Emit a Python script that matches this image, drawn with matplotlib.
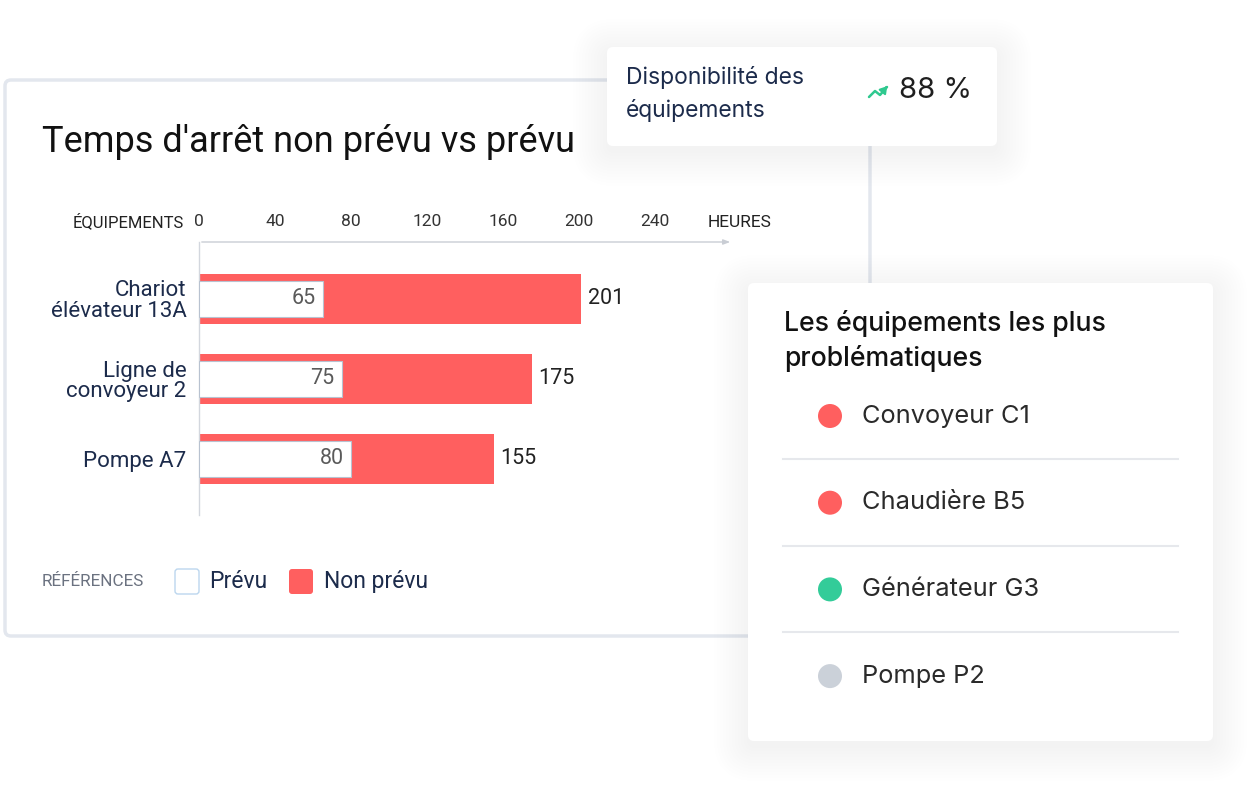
import matplotlib.pyplot as plt
from matplotlib.patches import FancyBboxPatch, Circle

plt.rcParams["font.family"] = ["Roboto", "DejaVu Sans"]

# ---- data ----
EQUIPEMENTS = ["Chariot\nélévateur 13A", "Ligne de\nconvoyeur 2", "Pompe A7"]
NON_PREVU = [201, 175, 155]
PREVU = [65, 75, 80]
TICKS = [0, 40, 80, 120, 160, 200, 240]

KPI_LABEL = "Disponibilité des\néquipements"
KPI_VALUE = "88 %"

PROBLEMES = ["Convoyeur C1", "Chaudière B5", "Générateur G3", "Pompe P2"]
PROBLEME_COLORS = ["#ff5f5f", "#ff5f5f", "#33cc99", "#cbd1d9"]

RED = "#ff5f5f"
NAVY = "#1c2b4b"
BORDER = "#e3e7ee"
INTER = ["Inter", "DejaVu Sans"]

W, H = 1250, 805
fig = plt.figure(figsize=(12.5, 8.05), dpi=100)
fig.patch.set_facecolor("white")

# background axes in pixel coordinates for cards and decorations
bg = fig.add_axes([0, 0, 1, 1])
bg.set_xlim(0, W)
bg.set_ylim(H, 0)
bg.axis("off")


def card(ax, x, y, w, h, shadow=True, edge=None, z=1):
    if shadow:
        for i in range(12):
            grow = 3 + i * 3
            ax.add_patch(FancyBboxPatch(
                (x - grow + 2, y - grow + 8), w + 2 * grow - 4, h + 2 * grow - 4,
                boxstyle="round,pad=0,rounding_size=%d" % (6 + grow),
                facecolor="#8a94aa", edgecolor="none", alpha=0.007, zorder=z))
    ax.add_patch(FancyBboxPatch(
        (x, y), w, h, boxstyle="round,pad=0,rounding_size=6",
        facecolor="white", edgecolor=edge if edge else "none",
        linewidth=2.5 if edge else 0, zorder=z + 0.5))


# main chart card
card(bg, 5, 80, 865, 556, shadow=False, edge=BORDER, z=1)

bg.text(42, 142, "Temps d'arrêt non prévu vs prévu", fontsize=26, color="#111111",
        va="center", ha="left", zorder=3)
bg.text(184, 222, "ÉQUIPEMENTS", fontsize=12, color="#222222",
        va="center", ha="right", zorder=3)
bg.text(708, 222, "HEURES", fontsize=12.5, color="#222222",
        va="center", ha="left", zorder=3)

# legend
bg.text(42, 581, "RÉFÉRENCES", fontsize=12.3, color="#6b7280",
        va="center", ha="left", zorder=3)
bg.add_patch(FancyBboxPatch((175, 569), 24, 25, boxstyle="round,pad=0,rounding_size=3",
                            facecolor="white", edgecolor="#bcd6ee", linewidth=1, zorder=3))
bg.text(209, 581, "Prévu", fontsize=16.5, color=NAVY, va="center", ha="left", zorder=3)
bg.add_patch(FancyBboxPatch((289, 569), 24, 25, boxstyle="round,pad=0,rounding_size=3",
                            facecolor=RED, edgecolor="none", zorder=3))
bg.text(324, 581, "Non prévu", fontsize=16.5, color=NAVY, va="center", ha="left", zorder=3)

# KPI card
card(bg, 607, 47, 390, 99, z=4)
bg.text(626, 94, KPI_LABEL, fontsize=16.5, color=NAVY, va="center", ha="left",
        linespacing=1.6, family=INTER, zorder=6)
bg.plot([869, 875, 880, 887], [97, 91, 95, 87], color="#2fc98f", linewidth=1.8,
        solid_capstyle="round", zorder=6)
bg.annotate("", xy=(889, 84), xytext=(884, 90),
            arrowprops=dict(arrowstyle="-|>,head_width=0.25,head_length=0.4",
                            color="#2fc98f", lw=1.5), zorder=6)
bg.text(899, 90, KPI_VALUE, fontsize=21, color="#1f1f1f", va="center", ha="left",
        family=INTER, zorder=6)

# list card
card(bg, 748, 283, 465, 458, z=4)
bg.text(784, 341, "Les équipements les plus\nproblématiques", fontsize=19.2,
        color="#111111", va="center", ha="left", linespacing=1.42,
        family=INTER, fontweight="medium", zorder=6)
for i, (name, col) in enumerate(zip(PROBLEMES, PROBLEME_COLORS)):
    yy = 416 + i * 86.7
    bg.add_patch(Circle((830, yy), 12, facecolor=col, edgecolor="none", zorder=6))
    bg.text(862, yy, name, fontsize=18.3, color="#2a2a2a", va="center", ha="left",
            family=INTER, zorder=6)
    if i < len(PROBLEMES) - 1:
        bg.plot([783, 1178], [yy + 43, yy + 43], color="#e6e8ec", linewidth=1.5, zorder=6)

# ---- bar chart axes ----
x0, x1, y0, y1 = 199, 733, 242, 515
ax = fig.add_axes([x0 / W, 1 - y1 / H, (x1 - x0) / W, (y1 - y0) / H])
ax.set_facecolor("none")
ypos = list(range(len(EQUIPEMENTS)))

bars = ax.barh(ypos, NON_PREVU, height=0.625, color=RED, edgecolor="none", zorder=2)
ax.barh(ypos, PREVU, height=0.44, color="white", edgecolor="#b8c2d0", linewidth=0.8,
        zorder=3)

for y, p, n in zip(ypos, PREVU, NON_PREVU):
    ax.annotate(str(p), (p, y), xytext=(-5, 0), textcoords="offset points",
                ha="right", va="center", fontsize=15.5, color="#5a5a5a", zorder=4)
    ax.annotate(str(n), (n, y), xytext=(5, 0), textcoords="offset points",
                ha="left", va="center", fontsize=15.5, color="#222222", zorder=4)

ax.set_xlim(0, 281)
ax.set_ylim(2.7, -0.7125)
ax.xaxis.tick_top()
ax.set_xticks(TICKS)
ax.set_xticklabels([str(t) for t in TICKS])
ax.tick_params(axis="x", length=0, pad=9, labelsize=12.5, labelcolor="#333333")
ax.set_yticks(ypos)
ax.set_yticklabels(EQUIPEMENTS)
ax.tick_params(axis="y", length=0, pad=9, labelsize=16, labelcolor=NAVY)
for lab in ax.get_yticklabels():
    lab.set_linespacing(0.95)

for s in ["top", "right", "bottom"]:
    ax.spines[s].set_visible(False)
ax.spines["left"].set_color("#d3d7de")
ax.spines["left"].set_linewidth(1)
ax.annotate("", xy=(1, 1), xytext=(0, 1), xycoords="axes fraction",
            arrowprops=dict(arrowstyle="-|>,head_width=0.15,head_length=0.4",
                            color="#c9cdd4", lw=1))

fig.savefig("out.png", dpi=100, facecolor="white")
